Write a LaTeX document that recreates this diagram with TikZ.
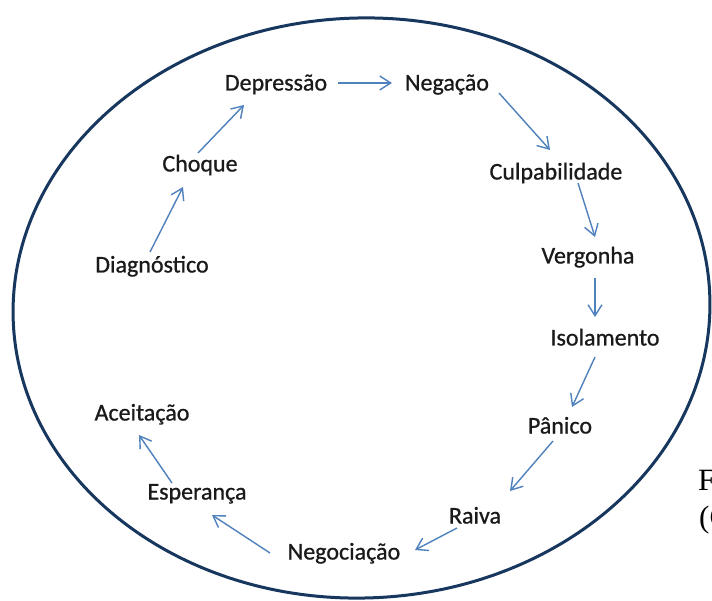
\documentclass[tikz,border=0pt]{standalone}
\usepackage{fontspec}
\setmainfont{Carlito}
\newfontfamily\lblfont{Carlito}[FakeBold=0.8]
\newfontfamily\capfont{Liberation Serif}
\usetikzlibrary{arrows.meta}
\definecolor{cnavy}{HTML}{17375E}
\definecolor{cflow}{HTML}{4F81BD}
\definecolor{ctext}{HTML}{1A1A1A}

\begin{document}
\begin{tikzpicture}[x=1pt, y=-1pt,
    lbl/.style={inner sep=1pt, text height=19pt, text depth=4pt, text=ctext,
      font=\lblfont\fontsize{24}{29}\selectfont},
    flow/.style={draw=cflow, line width=1.4pt,
      -{Straight Barb[length=11pt, width=14pt]}},
    capline/.style={inner sep=0pt, anchor=base west,
      font=\capfont\fontsize{31}{37}\selectfont}]
  \useasboundingbox (0,0) rectangle (712,601);
  \fill[white] (0,0) rectangle (712,601);
  \draw[cnavy, line width=3pt, rotate around={2:(361.5,308)}]
    (361.5,308) ellipse (348.5 and 290);

  % stages
  \node[lbl] (diag)  at (152,265) {Diagnóstico};
  \node[lbl] (choque) at (200,164) {Choque};
  \node[lbl] (dep)   at (276,83)  {Depressão};
  \node[lbl] (neg)   at (447,83)  {Negação};
  \node[lbl] (culp)  at (556,172) {Culpabilidade};
  \node[lbl] (verg)  at (588,256) {Vergonha};
  \node[lbl] (iso)   at (605,338) {Isolamento};
  \node[lbl] (pan)   at (560,426) {Pânico};
  \node[lbl] (raiva) at (475,516) {Raiva};
  \node[lbl] (negoc) at (344,552) {Negociação};
  \node[lbl] (esp)   at (197,492) {Esperança};
  \node[lbl] (acei)  at (142,413) {Aceitação};

  \draw[flow] ([shift={(-2,-13)}]diag.center)  -- ([shift={(-17,23)}]choque.center);
  \draw[flow] ([shift={(-2,-11)}]choque.center) -- ([shift={(-32,22)}]dep.center);
  \draw[flow] ([shift={(62,0)}]dep.center)      -- ([shift={(-55,0)}]neg.center);
  \draw[flow] ([shift={(52,10)}]neg.center)     -- ([shift={(-6,-22)}]culp.center);
  \draw[flow] ([shift={(22,11)}]culp.center)    -- ([shift={(7,-19)}]verg.center);
  \draw[flow] ([shift={(7,22)}]verg.center)     -- ([shift={(-10,-21)}]iso.center);
  \draw[flow] ([shift={(-10,19)}]iso.center)    -- ([shift={(12,-19)}]pan.center);
  \draw[flow] ([shift={(-7,15)}]pan.center)     -- ([shift={(35,-25)}]raiva.center);
  \draw[flow] ([shift={(-18,12)}]raiva.center)  -- ([shift={(71,-2)}]negoc.center);
  \draw[flow] ([shift={(-74,1)}]negoc.center)   -- ([shift={(15,23)}]esp.center);
  \draw[flow] ([shift={(-25,-9)}]esp.center)    -- ([shift={(-3,22)}]acei.center);

  % cut-off caption at the right edge
  \node[capline] (capa) at (698,490) {F};
  \node[capline] (capb) at (699,527) {(C};
\end{tikzpicture}
\end{document}
